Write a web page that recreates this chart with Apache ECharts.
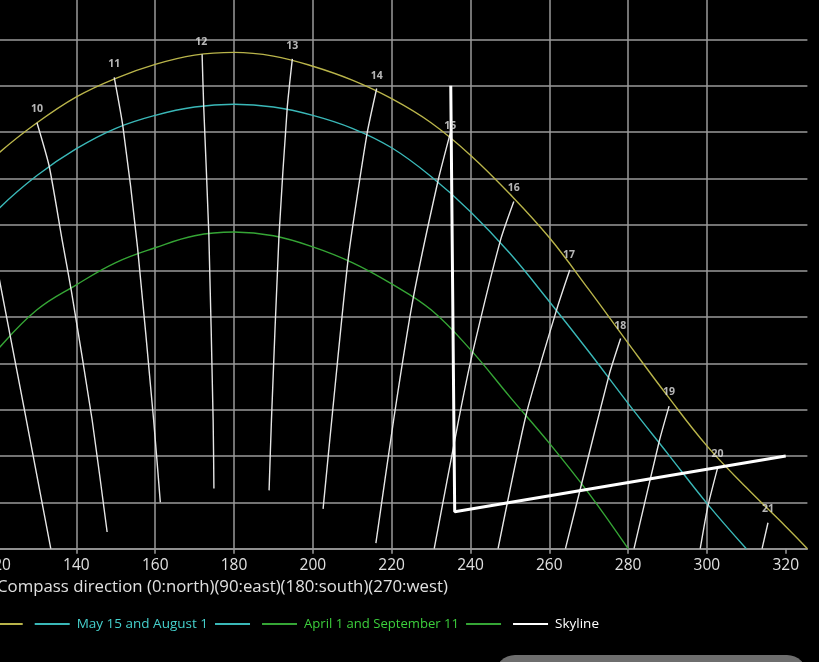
<!DOCTYPE html>
<html>
<head>
<meta charset="utf-8">
<script src="https://cdn.jsdelivr.net/npm/echarts@6/dist/echarts.min.js"></script>
<style>html,body{margin:0;padding:0;background:#000;}#c{width:819px;height:662px;}</style>
</head>
<body>
<div id="c"></div>
<script>
// x-axis tick values (compass direction)
const xTicks = [20, 40, 60, 80, 100, 120, 140, 160, 180, 200, 220, 240, 260, 280, 300, 320];

// Sun path: June 21
const azJune = [34.5, 40, 50, 60, 70, 80, 90, 100, 110, 120, 130, 140, 150, 160, 170, 180, 190, 200, 210, 220, 230, 240, 250, 260, 270, 280, 290, 300, 310, 320, 325.5];
const altJune = [0, 2.4, 6.6, 11.1, 16.5, 22.2, 28.0, 33.6, 38.3, 42.6, 46.0, 48.8, 50.8, 52.3, 53.3, 53.6, 53.2, 52.1, 50.6, 48.6, 46.0, 42.5, 38.3, 33.6, 28.0, 22.2, 16.5, 11.1, 6.6, 2.4, 0];

// Sun path: May 15 and August 1
const azMay = [50, 60, 70, 80, 90, 100, 110, 120, 130, 140, 150, 160, 170, 180, 190, 200, 210, 220, 230, 240, 250, 260, 270, 280, 290, 300, 310];
const altMay = [0, 4.9, 10.3, 15.7, 21.3, 26.7, 31.9, 36.6, 40.3, 43.2, 45.4, 46.8, 47.7, 48.0, 47.7, 46.8, 45.4, 43.3, 40.2, 36.4, 31.9, 26.7, 21.3, 15.7, 10.3, 4.9, 0];

// Sun path: April 1 and September 11
const azApr = [80, 90, 100, 110, 120, 130, 140, 150, 160, 170, 180, 190, 200, 210, 220, 230, 240, 250, 260, 270, 280];
const altApr = [0, 6.0, 11.4, 16.4, 21.5, 25.8, 28.5, 30.9, 32.5, 33.8, 34.2, 33.8, 32.6, 30.9, 28.6, 25.8, 21.5, 16.4, 11.4, 6.0, 0];

// Skyline
const skyAz = [235, 236, 320];
const skyAlt = [50, 4, 10];

// Hour lines (clock hours)
const hourNames = ['9', '10', '11', '12', '13', '14', '15', '16', '17', '18', '19', '20', '21'];
const hourAz = [
  [114.0, 117.5, 120.4, 133.5],
  [130.0, 133.1, 136.4, 138.7, 144.0, 147.8],
  [149.6, 151.8, 155.5, 159.6, 161.3],
  [171.9, 172.3, 173.6, 174.7, 174.9],
  [194.8, 193.5, 191.4, 189.5, 188.9],
  [216.2, 213.7, 209.0, 204.8, 202.6],
  [234.9, 231.7, 225.4, 220.5, 216.0],
  [251.0, 247.6, 240.4, 237.0, 230.8],
  [265.2, 262.0, 254.2, 247.0],
  [278.1, 275.2, 267.9, 264.1],
  [290.4, 287.9, 281.5],
  [302.7, 300.2, 298.3],
  [315.5, 314.0]
];
const hourAlt = [
  [40.0, 34.5, 29.2, 0],
  [46.0, 41.3, 33.3, 27.9, 13.9, 1.8],
  [50.9, 45.6, 32.6, 13.9, 5.0],
  [53.4, 47.8, 34.1, 13.9, 6.5],
  [52.9, 47.6, 33.7, 13.9, 6.3],
  [49.7, 44.7, 31.4, 13.9, 4.3],
  [44.9, 39.6, 26.9, 13.9, 0.6],
  [37.5, 33.3, 20.9, 13.9, 0],
  [30.1, 26.0, 14.6, 0],
  [22.7, 18.8, 6.5, 0],
  [15.4, 11.6, 0],
  [8.7, 4.5, 0],
  [2.8, 0]
];
// Hour label positions
const hourLabelAz = [114.0, 130.0, 149.6, 171.7, 194.8, 216.2, 234.9, 251.0, 265.0, 278.0, 290.4, 302.7, 315.5];
const hourLabelAlt = [41.4, 47.45, 52.3, 54.75, 54.3, 51.05, 45.65, 39.0, 31.7, 24.1, 16.9, 10.2, 4.25];

const nameJune = 'June 21';
const nameMay = 'May 15 and August 1';
const nameApr = 'April 1 and September 11';
const nameSky = 'Skyline';

const cYellow = '#b9b44a', cCyan = '#3ab8b8', cGreen = '#35a535', cWhite = '#ffffff';
const FONT = 'Open Sans';

function pairs(xs, ys) { return xs.map((x, i) => [x, ys[i]]); }

const series = [];
function curve(name, color, xs, ys) {
  series.push({
    name: name, type: 'line', data: pairs(xs, ys), symbol: 'none', smooth: 0.4,
    color: color, lineStyle: { color: color, width: 1.4 }, z: 3
  });
}
function blank(name, color) {
  series.push({ name: name, type: 'line', data: [], symbol: 'none', color: color, lineStyle: { color: color, width: 2 } });
}
curve(nameJune, cYellow, azJune, altJune);
blank('\u200b', cYellow);
curve(nameMay, cCyan, azMay, altMay);
blank('\u200b\u200b', cCyan);
curve(nameApr, cGreen, azApr, altApr);
blank('\u200b\u200b\u200b', cGreen);

hourNames.forEach((h, i) => {
  series.push({
    name: 'hour ' + h, type: 'line', data: pairs(hourAz[i], hourAlt[i]), symbol: 'none', smooth: 0.2,
    lineStyle: { color: '#e6e6e6', width: 1.4 }, z: 4, silent: true
  });
});

series.push({
  name: nameSky, type: 'line', data: pairs(skyAz, skyAlt), symbol: 'none', color: cWhite,
  lineStyle: { color: cWhite, width: 3 }, z: 6
});

series.push({
  name: 'hour labels', type: 'scatter', symbolSize: 1, itemStyle: { color: 'rgba(0,0,0,0)' },
  data: hourLabelAz.map((a, i) => ({ name: hourNames[i], value: [a, hourLabelAlt[i]] })),
  label: { show: true, position: 'inside', formatter: p => p.name, color: '#e4e4e4', fontSize: 10.5, fontWeight: 'bold', fontFamily: FONT },
  z: 7, silent: true
});

const gridColor = '#9a9a9a';
const legendTextPad = [0, 0, 0, 2];
const option = {
  backgroundColor: '#000000',
  animation: false,
  grid: { left: -396.5, right: 11.6, top: -6.9, bottom: 113.3, containLabel: false, outerBoundsMode: 'none' },
  xAxis: {
    type: 'value', min: 20, max: 325.5, interval: 20,
    name: 'Compass direction (0:north)(90:east)(180:south)(270:west)',
    nameLocation: 'middle', nameGap: 20,
    nameTextStyle: { color: '#e0e0e0', fontSize: 16.8, fontFamily: FONT, padding: [0, 0, 0, 34] },
    axisLine: { show: true, lineStyle: { color: gridColor, width: 1.5 } },
    axisTick: { show: true, length: 5, customValues: xTicks, lineStyle: { color: gridColor, width: 1.5 } },
    axisLabel: { color: '#e0e0e0', fontSize: 15.5, fontFamily: FONT, margin: 9, customValues: xTicks },
    splitLine: { show: true, showMaxLine: false, lineStyle: { color: gridColor, width: 1.5 } }
  },
  yAxis: {
    type: 'value', min: 0, max: 60, interval: 5,
    axisLine: { show: false }, axisTick: { show: false }, axisLabel: { show: false },
    splitLine: { show: true, lineStyle: { color: gridColor, width: 1.5 } }
  },
  legend: {
    left: -108, top: 617, padding: 0, itemGap: 7, itemWidth: 35, itemHeight: 2, icon: 'rect',
    textStyle: { fontSize: 13.5, fontFamily: FONT, color: '#dddddd' },
    data: [
      { name: nameJune, textStyle: { color: '#d6d05a', padding: legendTextPad } },
      { name: '\u200b' },
      { name: nameMay, textStyle: { color: '#45d0cc', padding: legendTextPad } },
      { name: '\u200b\u200b' },
      { name: nameApr, textStyle: { color: '#3ccf3c', padding: legendTextPad, fontSize: 13.1 } },
      { name: '\u200b\u200b\u200b' },
      { name: nameSky, textStyle: { color: '#ffffff', padding: legendTextPad } }
    ]
  },
  graphic: [{
    type: 'rect', shape: { x: 495, y: 655, width: 312, height: 40, r: 20 },
    style: { fill: '#6e6e6e' }, z: 100
  }],
  series: series
};

const chart = echarts.init(document.getElementById('c'), null, { renderer: 'canvas' });
chart.setOption(option);
</script>
</body>
</html>
